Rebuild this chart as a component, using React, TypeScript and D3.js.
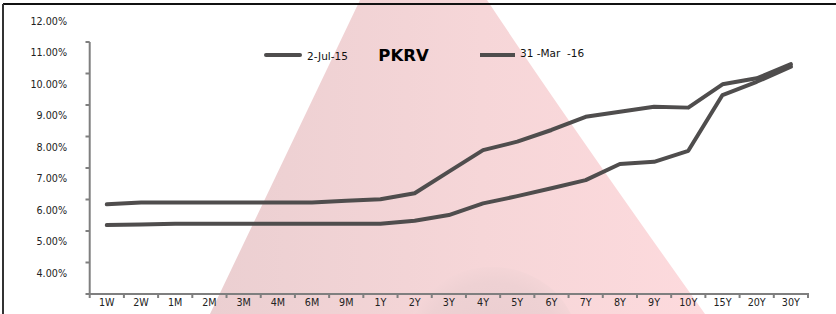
import React from "react";
import * as d3 from "d3";

const tenors = ["1W","2W","1M","2M","3M","4M","6M","9M","1Y","2Y","3Y","4Y","5Y","6Y","7Y","8Y","9Y","10Y","15Y","20Y","30Y"];
const jul15 = [6.18,6.24,6.24,6.24,6.24,6.24,6.24,6.29,6.34,6.53,7.22,7.90,8.17,8.54,8.96,9.12,9.28,9.25,9.99,10.18,10.63];
const mar16 = [5.52,5.54,5.56,5.56,5.56,5.56,5.56,5.56,5.56,5.66,5.84,6.21,6.44,6.69,6.95,7.46,7.53,7.88,9.65,10.07,10.55];
const yTicks = [4,5,6,7,8,9,10,11,12];
const seriesNames = ["2-Jul-15", "31 -Mar  -16"];

const W = 836, H = 314;

export default function App() {
  const x = d3.scaleBand<string>().domain(tenors).range([89.7, 808]);
  const y = d3.scaleLinear().domain([4, 12]).range([273, 21]);
  const tickOff = 21;
  const line = d3.line<number>()
    .x((_, i) => (x(tenors[i]) as number) + x.bandwidth() / 2)
    .y((d) => y(d));
  const lineColor = "#4f4d4d";
  const axisColor = "#7f7f7f";
  const font = "'DejaVu Sans', Verdana, sans-serif";
  const axisBottom = 294;
  const axisTop = y(12) + tickOff;

  return (
    <svg width={W} height={H} style={{ position: "absolute", left: 0, top: 0, display: "block" }}>
      <defs>
        <linearGradient id="pk" x1="0" y1="0" x2="1" y2="0">
          <stop offset="0%" stopColor="#ebcfd1" />
          <stop offset="55%" stopColor="#f6d6d8" />
          <stop offset="100%" stopColor="#fddadd" />
        </linearGradient>
        <radialGradient id="el" cx="0.5" cy="0.5" r="0.5">
          <stop offset="0%" stopColor="#eacdd0" />
          <stop offset="80%" stopColor="#eed1d3" />
          <stop offset="100%" stopColor="#f4d5d7" />
        </radialGradient>
      </defs>
      <rect x={0} y={0} width={W} height={H} fill="#ffffff" />
      <path d="M360,0 L487,0 Q560,110 705,314 L210,314 Z" fill="url(#pk)" />
      <ellipse cx={492} cy={345} rx={86} ry={78} fill="url(#el)" />
      <line x1={3} y1={4} x2={W} y2={4} stroke="#111" strokeWidth={2} />
      <line x1={3} y1={4} x2={3} y2={H} stroke="#333" strokeWidth={2} />

      {/* y axis */}
      <line x1={89.7} y1={axisTop} x2={89.7} y2={axisBottom} stroke={axisColor} strokeWidth={2} />
      {yTicks.map((t) => (
        <g key={t}>
          <line x1={85.5} x2={89.7} y1={y(t) + tickOff} y2={y(t) + tickOff} stroke={axisColor} strokeWidth={2} />
          <text x={67} y={y(t)} textAnchor="end" dominantBaseline="central" fontFamily={font} fontSize={9.6} fill="#222">
            {t.toFixed(2)}%
          </text>
        </g>
      ))}

      {/* x axis */}
      <line x1={88.7} y1={axisBottom} x2={809} y2={axisBottom} stroke={axisColor} strokeWidth={2} />
      {tenors.map((t) => (
        <line key={"t" + t} x1={x(t) as number} x2={x(t) as number} y1={axisBottom} y2={axisBottom + 4} stroke={axisColor} strokeWidth={2} />
      ))}
      <line x1={808} x2={808} y1={axisBottom} y2={axisBottom + 4} stroke={axisColor} strokeWidth={2} />
      {tenors.map((t) => (
        <text key={"l" + t} x={(x(t) as number) + x.bandwidth() / 2} y={302} textAnchor="middle" dominantBaseline="central" fontFamily={font} fontSize={9.6} fill="#222">
          {t}
        </text>
      ))}

      {/* series */}
      <path d={line(mar16) as string} fill="none" stroke={lineColor} strokeWidth={4} strokeLinejoin="round" strokeLinecap="round" />
      <path d={line(jul15) as string} fill="none" stroke={lineColor} strokeWidth={4} strokeLinejoin="round" strokeLinecap="round" />

      {/* legend */}
      <line x1={266} x2={300} y1={55} y2={55} stroke={lineColor} strokeWidth={4} strokeLinecap="round" />
      <text x={307} y={55.5} dominantBaseline="central" fontFamily={font} fontSize={10.5} fill="#111">{seriesNames[0]}</text>
      <text x={403.5} y={55} textAnchor="middle" dominantBaseline="central" fontFamily={font} fontSize={16.5} fontWeight="bold" fill="#000">PKRV</text>
      <line x1={480} x2={515} y1={55} y2={55} stroke={lineColor} strokeWidth={4} />
      <text x={520} y={53} dominantBaseline="central" fontFamily={font} fontSize={10.5} fill="#111" style={{ whiteSpace: "pre" }}>{seriesNames[1]}</text>
    </svg>
  );
}
